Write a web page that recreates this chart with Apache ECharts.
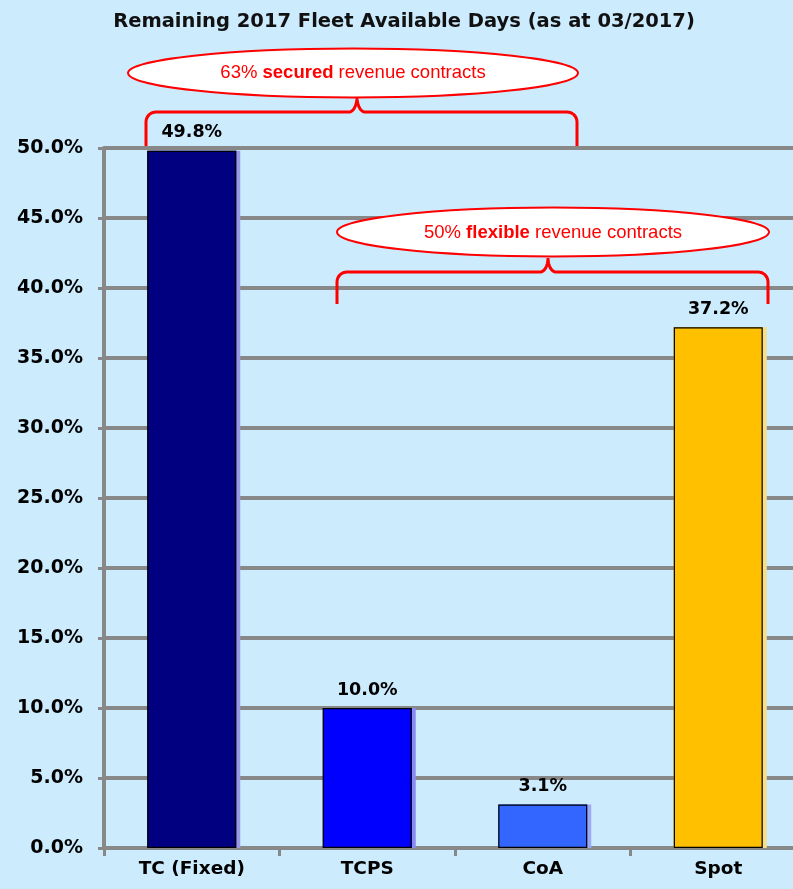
<!DOCTYPE html>
<html>
<head>
<meta charset="utf-8">
<script src="https://cdn.jsdelivr.net/npm/echarts@6/dist/echarts.min.js"></script>
<style>
html,body{margin:0;padding:0;background:#CCEBFD;overflow:hidden;width:793px;height:889px;}
#c{width:820px;height:889px;}
</style>
</head>
<body>
<div id="c"></div>
<script>
const titleText = 'Remaining 2017 Fleet Available Days (as at 03/2017)';
const categories = ['TC (Fixed)', 'TCPS', 'CoA', 'Spot'];
const values = [49.8, 10.0, 3.1, 37.2];
const barColors = ['#000080', '#0000FF', '#3366FF', '#FFC000'];
const shadowColors = ['#9A9AE8', '#8A8AF5', '#9AAAF5', '#F5E08A'];
const yMin = 0, yMax = 50, yStep = 5;
const note1 = '63% {b|secured} revenue contracts';
const note2 = '50% {b|flexible} revenue contracts';

const FONT = 'DejaVu Sans';
const RED = '#FF0000';

function brace(x1, x2, yB, yH, xm, yP, r) {
  const pts = [];
  pts.push([x1, yB]);
  for (let i = 0; i <= 8; i++) { const a = Math.PI - (Math.PI / 2) * (i / 8); pts.push([x1 + r + r * Math.cos(a), yH + r - r * Math.sin(a)]); }
  const r2 = 8;
  for (let i = 0; i <= 8; i++) { const t = i / 8; pts.push([xm - r2 + r2 * Math.sin(t * Math.PI / 2), yH - (yH - yP) * (1 - Math.cos(t * Math.PI / 2))]); }
  for (let i = 8; i >= 0; i--) { const t = i / 8; pts.push([xm + r2 - r2 * Math.sin(t * Math.PI / 2), yH - (yH - yP) * (1 - Math.cos(t * Math.PI / 2))]); }
  for (let i = 0; i <= 8; i++) { const a = Math.PI / 2 - (Math.PI / 2) * (i / 8); pts.push([x2 - r + r * Math.cos(a), yH + r - r * Math.sin(a)]); }
  pts.push([x2, yB]);
  return pts;
}

const chart = echarts.init(document.getElementById('c'), null, {renderer: 'canvas'});
chart.setOption({
  backgroundColor: '#CCEBFD',
  animation: false,
  title: {
    text: titleText, left: 399, top: 7, textAlign: 'center',
    textStyle: {fontFamily: FONT, fontWeight: 'bold', fontSize: 19.5, color: '#111'}
  },
  grid: {left: 104, width: 702, top: 148, height: 700, containLabel: false},
  xAxis: {
    type: 'category', data: categories,
    axisLine: {lineStyle: {color: '#888888', width: 4}},
    axisTick: {show: true, length: 8, lineStyle: {color: '#888888', width: 3}},
    axisLabel: {fontFamily: FONT, fontWeight: 'bold', fontSize: 18.5, color: '#000', margin: 12}
  },
  yAxis: {
    type: 'value', min: yMin, max: yMax, interval: yStep,
    axisLine: {show: true, lineStyle: {color: '#888888', width: 4}},
    axisTick: {show: true, length: 6, lineStyle: {color: '#888888', width: 3}},
    splitLine: {lineStyle: {color: '#888888', width: 4}},
    axisLabel: {fontFamily: FONT, fontWeight: 'bold', fontSize: 19, color: '#000', margin: 21,
      formatter: v => v.toFixed(1) + '%'}
  },
  series: [{
    type: 'bar', barWidth: 89, z: 2,
    data: values.map((v, i) => ({value: v, itemStyle: {color: barColors[i], shadowColor: shadowColors[i]}})),
    itemStyle: {borderWidth: 0, shadowOffsetX: 4, shadowOffsetY: 0, shadowBlur: 0}
  }, {
    type: 'bar', barWidth: 89, barGap: '-100%', z: 3,
    data: values,
    itemStyle: {color: 'rgba(0,0,0,0)', borderColor: '#000', borderWidth: 1.2},
    label: {show: true, position: 'top', distance: 9, fontFamily: FONT, fontWeight: 'bold', fontSize: 17.5, color: '#000',
      formatter: p => p.value.toFixed(1) + '%'}
  }],
  graphic: [
    {type: 'polyline', z: 100, shape: {points: brace(146, 577, 146, 112, 357, 97, 10)}, style: {stroke: RED, lineWidth: 3, fill: null}},
    {type: 'polyline', z: 100, shape: {points: brace(337, 768, 304, 272, 548, 258, 10)}, style: {stroke: RED, lineWidth: 3, fill: null}},
    {type: 'ellipse', z: 101, shape: {cx: 353, cy: 73, rx: 225, ry: 24.5}, style: {fill: '#FFFFFF', stroke: RED, lineWidth: 2}},
    {type: 'ellipse', z: 101, shape: {cx: 553, cy: 232, rx: 216, ry: 24.5}, style: {fill: '#FFFFFF', stroke: RED, lineWidth: 2}},
    {type: 'text', z: 102, x: 353, y: 73, style: {text: note1, fill: RED, font: '18.5px "Liberation Sans", Arial, sans-serif', align: 'center', verticalAlign: 'middle',
      rich: {b: {fontWeight: 'bold', fontSize: 18.5, fontFamily: 'Liberation Sans', fill: RED}}}},
    {type: 'text', z: 102, x: 553, y: 233, style: {text: note2, fill: RED, font: '18.5px "Liberation Sans", Arial, sans-serif', align: 'center', verticalAlign: 'middle',
      rich: {b: {fontWeight: 'bold', fontSize: 18.5, fontFamily: 'Liberation Sans', fill: RED}}}}
  ]
});
</script>
</body>
</html>
